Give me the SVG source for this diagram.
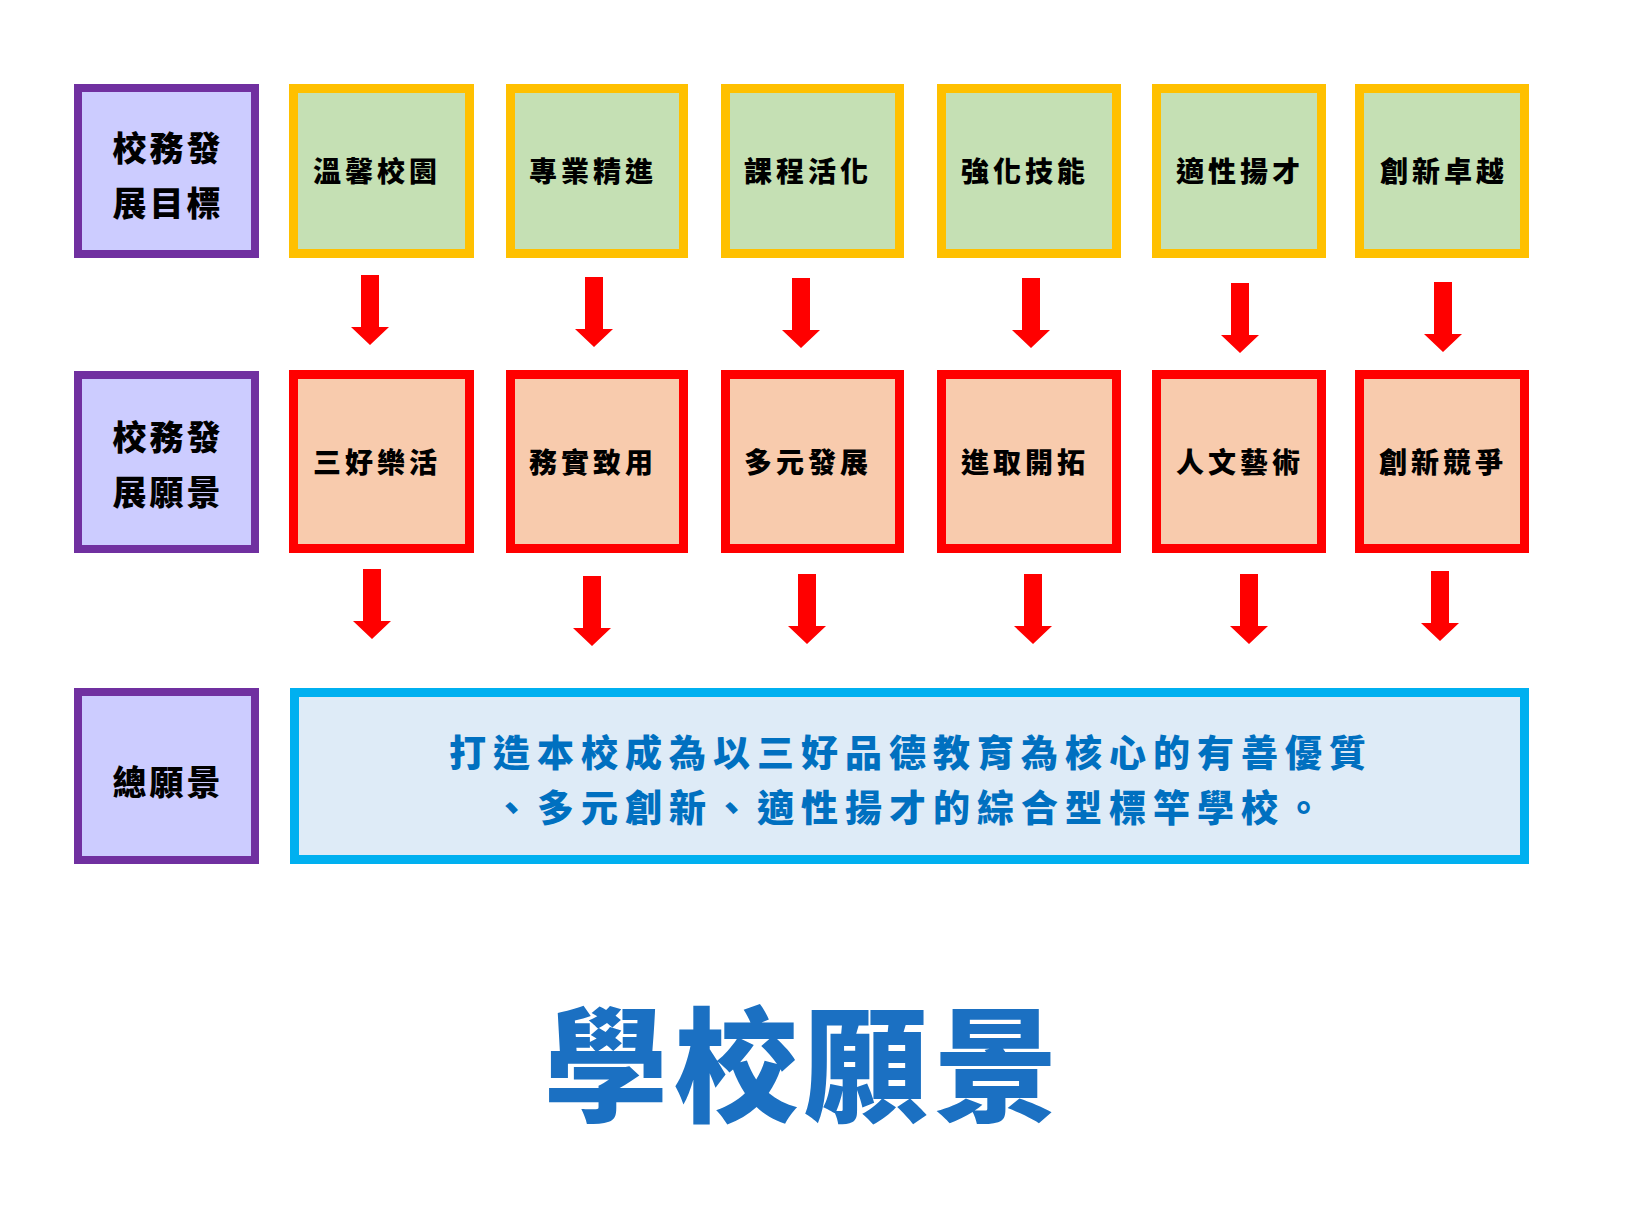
<svg xmlns="http://www.w3.org/2000/svg" width="1628" height="1222" viewBox="0 0 1628 1222">
<defs>
<style>
text{font-family:"Noto Sans CJK TC","Noto Sans CJK SC",sans-serif;font-weight:900;text-anchor:middle;dominant-baseline:central}
.head{fill:#CCCCFF;stroke:#7030A0;stroke-width:8}
.goal{fill:#C5E0B4;stroke:#FFC000;stroke-width:9}
.vis{fill:#F8CBAD;stroke:#FF0000;stroke-width:9}
.total{fill:#DEEBF7;stroke:#00B0F0;stroke-width:9}
.ht{font-size:34px;letter-spacing:3px;fill:#000}
.bt{font-size:28px;letter-spacing:4px;fill:#000}
.vt{font-size:37px;letter-spacing:7px;fill:#0070C0}
.title{font-size:124px;letter-spacing:6px;fill:#1B70C2}
.arr{fill:#FF0000}
</style>
<path id="a1" d="M-9,0 H9 V52 H19 L0,70 L-19,52 H-9 Z"/>
</defs>
<rect width="1628" height="1222" fill="#FFFFFF"/>

<g id="head-goals">
<rect class="head" x="78" y="88" width="177" height="166"/>
<text class="ht" x="168" y="146">校務發</text>
<text class="ht" x="168" y="201">展目標</text>
</g>
<g id="head-visions">
<rect class="head" x="78" y="375" width="177" height="174"/>
<text class="ht" x="168" y="435">校務發</text>
<text class="ht" x="168" y="490">展願景</text>
</g>
<g id="head-total">
<rect class="head" x="78" y="692" width="177" height="168"/>
<text class="ht" x="168" y="780">總願景</text>
</g>

<g id="goal-1"><rect class="goal" x="293.5" y="88.5" width="176" height="165"/><text class="bt" x="377" y="170">溫馨校園</text></g>
<g id="goal-2"><rect class="goal" x="510.5" y="88.5" width="173" height="165"/><text class="bt" x="593" y="170">專業精進</text></g>
<g id="goal-3"><rect class="goal" x="725.5" y="88.5" width="174" height="165"/><text class="bt" x="808" y="170">課程活化</text></g>
<g id="goal-4"><rect class="goal" x="941.5" y="88.5" width="175" height="165"/><text class="bt" x="1025" y="170">強化技能</text></g>
<g id="goal-5"><rect class="goal" x="1156.5" y="88.5" width="165" height="165"/><text class="bt" x="1240" y="170">適性揚才</text></g>
<g id="goal-6"><rect class="goal" x="1359.5" y="88.5" width="165" height="165"/><text class="bt" x="1444" y="170">創新卓越</text></g>

<g id="vision-1"><rect class="vis" x="293.5" y="374.5" width="176" height="174"/><text class="bt" x="377" y="461">三好樂活</text></g>
<g id="vision-2"><rect class="vis" x="510.5" y="374.5" width="173" height="174"/><text class="bt" x="593" y="461">務實致用</text></g>
<g id="vision-3"><rect class="vis" x="725.5" y="374.5" width="174" height="174"/><text class="bt" x="808" y="461">多元發展</text></g>
<g id="vision-4"><rect class="vis" x="941.5" y="374.5" width="175" height="174"/><text class="bt" x="1025" y="461">進取開拓</text></g>
<g id="vision-5"><rect class="vis" x="1156.5" y="374.5" width="165" height="174"/><text class="bt" x="1240" y="461">人文藝術</text></g>
<g id="vision-6"><rect class="vis" x="1359.5" y="374.5" width="165" height="174"/><text class="bt" x="1443" y="461">創新競爭</text></g>

<g id="total-vision">
<rect class="total" x="294.5" y="692.5" width="1230" height="167"/>
<text class="vt" x="911" y="751">打造本校成為以三好品德教育為核心的有善優質</text>
<text class="vt" x="911" y="806">、多元創新、適性揚才的綜合型標竿學校。</text>
</g>

<g id="connectors" class="arr">
<use href="#a1" x="370" y="275"/>
<use href="#a1" x="594" y="277"/>
<use href="#a1" x="801" y="278"/>
<use href="#a1" x="1031" y="278"/>
<use href="#a1" x="1240" y="283"/>
<use href="#a1" x="1443" y="282"/>
<use href="#a1" x="372" y="569"/>
<use href="#a1" x="592" y="576"/>
<use href="#a1" x="807" y="574"/>
<use href="#a1" x="1033" y="574"/>
<use href="#a1" x="1249" y="574"/>
<use href="#a1" x="1440" y="571"/>
</g>

<g id="title">
<text class="title" x="804" y="1058">學校願景</text>
</g>
</svg>
